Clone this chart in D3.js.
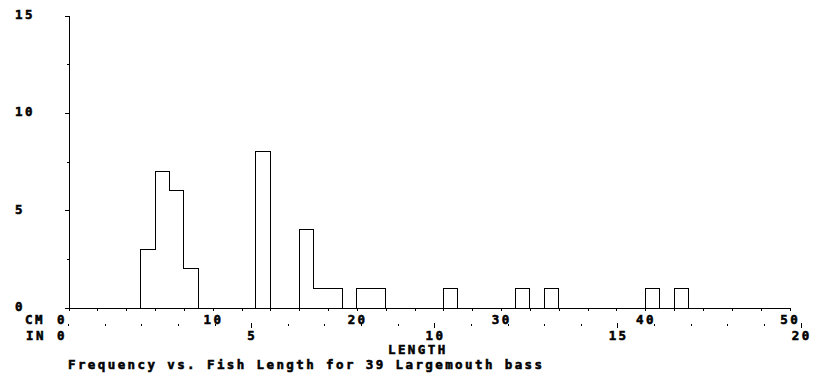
<!DOCTYPE html>
<html>
<head>
<meta charset="utf-8">
<script src="https://cdn.jsdelivr.net/npm/d3@7"></script>
<style>
  html, body { margin: 0; padding: 0; background: #fff; }
  svg { display: block; }
  text { font-family: "DejaVu Sans Mono", monospace; font-weight: bold; font-size: 12.5px; letter-spacing: 2.4px; fill: #000; stroke: #000; stroke-width: 0.55px; }
</style>
</head>
<body>
<svg id="chart" width="824" height="375"></svg>
<script>
// ---- data ----
const binStartCm = [5, 6, 7, 8, 13, 16, 17, 18, 20, 21, 26, 31, 33, 40, 42]; // lower edge of 1-cm bins
const binCounts  = [3, 7, 6, 2, 8,  4,  1,  1,  1,  1,  1,  1,  1,  1,  1];
const binWidthCm = 1;
const yTickLabels  = [0, 5, 10, 15];
const yMinorTicks  = [2.5, 7.5, 12.5];
const cmTickLabels = [0, 10, 20, 30, 40, 50];
const inTickLabels = [0, 5, 10, 15, 20];
const xTitle = "LENGTH";
const chartTitle = "Frequency vs. Fish Length for 39 Largemouth bass";

const svg = d3.select("#chart");
const x = d3.scaleLinear().domain([0, 50]).range([68, 789]);
const y = d3.scaleLinear().domain([0, 15]).range([307, 15]);
const xIn = d3.scaleLinear().domain([0, 20]).range([x(0), x(50.8)]);
const ink = "#000";
const px = v => Math.round(x(v)) + 0.5;
const py = v => Math.round(y(v)) + 0.5;

// group contiguous bins into runs and draw each run as a step outline
const runs = [];
binStartCm.forEach((s, i) => {
  const last = runs[runs.length - 1];
  if (last && last[last.length - 1].s + binWidthCm === s) last.push({ s, c: binCounts[i] });
  else runs.push([{ s, c: binCounts[i] }]);
});
const runPoints = runs.map(run => {
  const pts = [[run[0].s, 0]];
  run.forEach(b => { pts.push([b.s, b.c]); pts.push([b.s + binWidthCm, b.c]); });
  pts.push([run[run.length - 1].s + binWidthCm, 0]);
  return pts;
});
const line = d3.line().x(d => px(d[0])).y(d => py(d[1]));
svg.append("g").selectAll("path").data(runPoints).join("path")
  .attr("d", line)
  .attr("fill", "none")
  .attr("stroke", ink)
  .attr("stroke-width", 1)
  .attr("shape-rendering", "crispEdges");

// y axis (major + minor ticks)
const gy = svg.append("g").attr("transform", "translate(" + (Math.round(x(0)) + 0.5) + ",0.5)")
  .attr("shape-rendering", "crispEdges");
gy.call(d3.axisLeft(y).tickValues(yTickLabels).tickSize(4).tickSizeOuter(0).tickFormat(""));
gy.call(g => g.selectAll("path,line").attr("stroke", ink));
const gyMinor = svg.append("g").attr("transform", "translate(" + (Math.round(x(0)) + 0.5) + ",0.5)")
  .attr("shape-rendering", "crispEdges");
gyMinor.call(d3.axisLeft(y).tickValues(yMinorTicks).tickSize(2).tickSizeOuter(0).tickFormat(""));
gyMinor.select(".domain").remove();
gyMinor.selectAll("line").attr("stroke", ink);

svg.append("g").selectAll("text").data(yTickLabels).join("text")
  .attr("x", 15).attr("y", d => y(d) + 4).text(d => d);

// x axis (cm) with 2-cm ticks below
const gx = svg.append("g").attr("transform", "translate(0.5," + (Math.round(y(0)) + 0.5) + ")")
  .attr("shape-rendering", "crispEdges");
gx.call(d3.axisBottom(x).tickValues(d3.range(0, 51, 2)).tickSize(3).tickSizeOuter(0).tickFormat(""));
gx.call(g => g.selectAll("path,line").attr("stroke", ink));

// inch marks (dots every inch, taller at labelled inches)
svg.append("g").attr("shape-rendering", "crispEdges").selectAll("line")
  .data(d3.range(0, 21, 1)).join("line")
  .attr("x1", d => Math.round(xIn(d)) + 0.5).attr("x2", d => Math.round(xIn(d)) + 0.5)
  .attr("y1", d => inTickLabels.includes(d) && d > 0 ? 323 : 324)
  .attr("y2", d => inTickLabels.includes(d) && d > 0 ? 328 : 326)
  .attr("stroke", ink);

// unit labels
svg.append("text").attr("x", 25).attr("y", 323.5).text("CM");
svg.append("text").attr("x", 26).attr("y", 340).text("IN");

svg.append("g").selectAll("text").data(cmTickLabels).join("text")
  .attr("x", d => d === 0 ? x(d) - 1 : x(d) + 1.2)
  .attr("y", 323.5)
  .attr("text-anchor", d => d === 0 ? "end" : "middle")
  .text(d => d);

svg.append("g").selectAll("text").data(inTickLabels).join("text")
  .attr("x", d => d === 0 ? xIn(d) - 1 : xIn(d) + 1.2)
  .attr("y", 340)
  .attr("text-anchor", d => d === 0 ? "end" : "middle")
  .text(d => d);

svg.append("text").attr("x", 388).attr("y", 353.5).text(xTitle);
svg.append("text").attr("x", 68).attr("y", 369).text(chartTitle);
</script>
</body>
</html>
